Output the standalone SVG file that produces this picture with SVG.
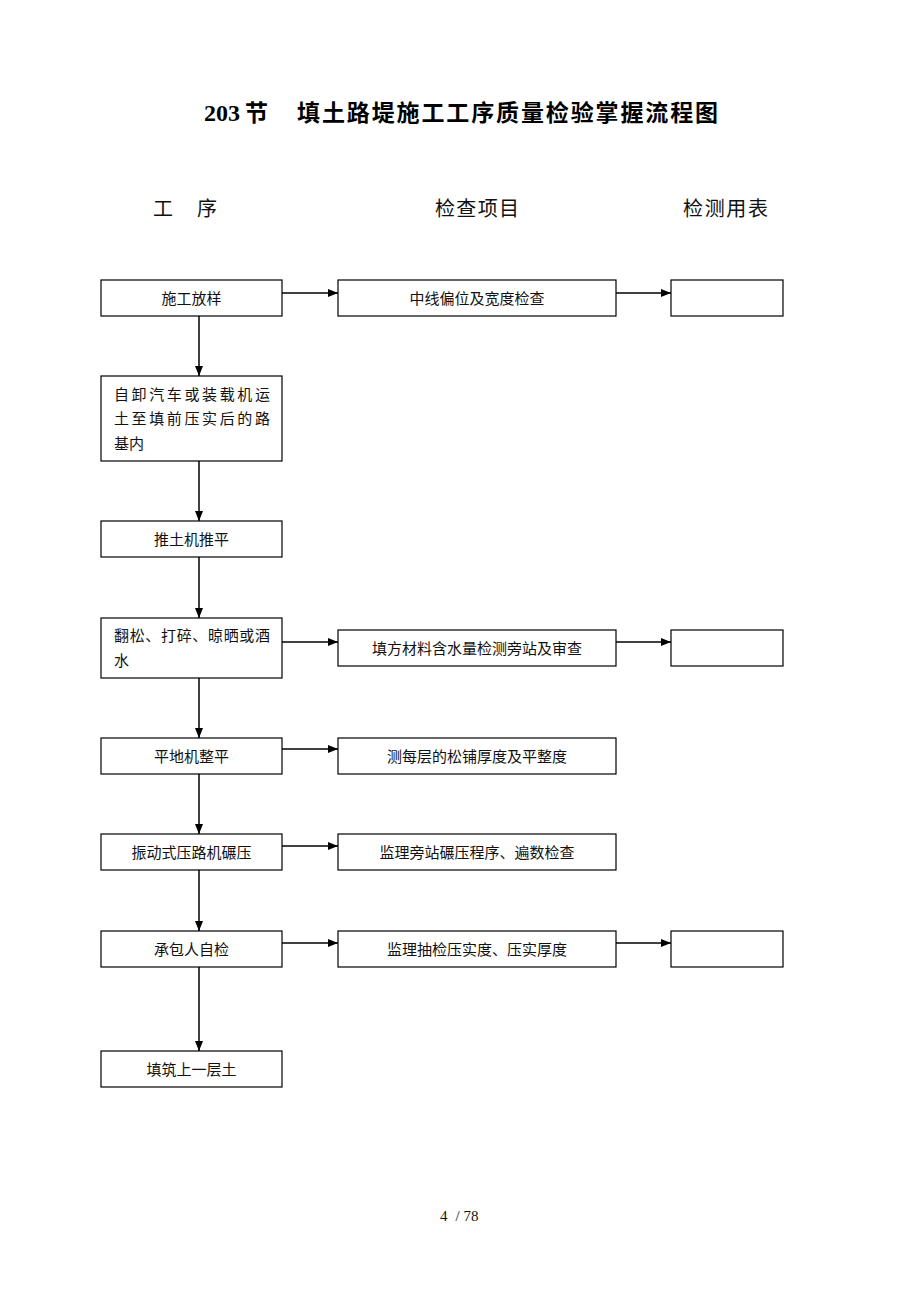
<svg xmlns="http://www.w3.org/2000/svg" width="920" height="1302" viewBox="0 0 920 1302">
<style>
.box{fill:#fff;stroke:#000;stroke-width:1.2}
.t{font-family:"Noto Sans CJK SC","Liberation Sans",sans-serif;font-size:15px;fill:#111}
.c{text-anchor:middle}
.h{font-family:"Noto Sans CJK SC","Liberation Sans",sans-serif;font-size:20px;fill:#111}
.ln{stroke:#000;stroke-width:1.5;fill:none}
</style>
<defs>
<marker id="ah" markerWidth="10" markerHeight="8" refX="10" refY="4" orient="auto" markerUnits="userSpaceOnUse">
<path d="M0,0 L10,4 L0,8 Z" fill="#000"/>
</marker>
</defs>
<rect width="920" height="1302" fill="#fff"/>
<g id="title">
<text x="204" y="121" font-family="Liberation Serif,serif" font-weight="bold" font-size="24">203</text>
<text x="245" y="121" font-family="Noto Sans CJK SC,sans-serif" font-weight="bold" font-size="23">节</text>
<text x="297" y="121" font-family="Noto Sans CJK SC,sans-serif" font-weight="bold" font-size="23" textLength="421" lengthAdjust="spacing">填土路堤施工工序质量检验掌握流程图</text>
</g>
<g id="headers">
<text class="h" x="153" y="216">工</text>
<text class="h" x="197" y="216">序</text>
<text class="h" x="435" y="216" textLength="84" lengthAdjust="spacing">检查项目</text>
<text class="h" x="683" y="216" textLength="85" lengthAdjust="spacing">检测用表</text>
</g>
<g id="connectors">
<line class="ln" x1="199" y1="316" x2="199" y2="376" marker-end="url(#ah)"/>
<line class="ln" x1="199" y1="461" x2="199" y2="521" marker-end="url(#ah)"/>
<line class="ln" x1="199" y1="557" x2="199" y2="618" marker-end="url(#ah)"/>
<line class="ln" x1="199" y1="678" x2="199" y2="738" marker-end="url(#ah)"/>
<line class="ln" x1="199" y1="774" x2="199" y2="834" marker-end="url(#ah)"/>
<line class="ln" x1="199" y1="870" x2="199" y2="931" marker-end="url(#ah)"/>
<line class="ln" x1="199" y1="967" x2="199" y2="1051" marker-end="url(#ah)"/>
<line class="ln" x1="282" y1="293" x2="338" y2="293" marker-end="url(#ah)"/>
<line class="ln" x1="616" y1="293" x2="671" y2="293" marker-end="url(#ah)"/>
<line class="ln" x1="282" y1="642" x2="338" y2="642" marker-end="url(#ah)"/>
<line class="ln" x1="616" y1="642" x2="671" y2="642" marker-end="url(#ah)"/>
<line class="ln" x1="282" y1="749" x2="338" y2="749" marker-end="url(#ah)"/>
<line class="ln" x1="282" y1="846" x2="338" y2="846" marker-end="url(#ah)"/>
<line class="ln" x1="282" y1="943" x2="338" y2="943" marker-end="url(#ah)"/>
<line class="ln" x1="616" y1="943" x2="671" y2="943" marker-end="url(#ah)"/>
</g>
<g id="n1"><rect class="box" x="101" y="280" width="181" height="36"/><text class="t c" x="191.5" y="304">施工放样</text></g>
<g id="n2"><rect class="box" x="101" y="376" width="181" height="85"/>
<text class="t" x="114" y="400" textLength="156" lengthAdjust="spacing">自卸汽车或装载机运</text>
<text class="t" x="114" y="424" textLength="156" lengthAdjust="spacing">土至填前压实后的路</text>
<text class="t" x="114" y="449">基内</text></g>
<g id="n3"><rect class="box" x="101" y="521" width="181" height="36"/><text class="t c" x="191.5" y="545">推土机推平</text></g>
<g id="n4"><rect class="box" x="101" y="618" width="181" height="60"/>
<text class="t" x="114" y="641" textLength="156" lengthAdjust="spacing">翻松、打碎、晾晒或酒</text>
<text class="t" x="114" y="666">水</text></g>
<g id="n5"><rect class="box" x="101" y="738" width="181" height="36"/><text class="t c" x="191.5" y="762">平地机整平</text></g>
<g id="n6"><rect class="box" x="101" y="834" width="181" height="36"/><text class="t c" x="191.5" y="858">振动式压路机碾压</text></g>
<g id="n7"><rect class="box" x="101" y="931" width="181" height="36"/><text class="t c" x="191.5" y="955">承包人自检</text></g>
<g id="n8"><rect class="box" x="101" y="1051" width="181" height="36"/><text class="t c" x="191.5" y="1075">填筑上一层土</text></g>
<g id="m1"><rect class="box" x="338" y="280" width="278" height="36"/><text class="t c" x="477" y="304">中线偏位及宽度检查</text></g>
<g id="m2"><rect class="box" x="338" y="630" width="278" height="36"/><text class="t c" x="477" y="654">填方材料含水量检测旁站及审查</text></g>
<g id="m3"><rect class="box" x="338" y="738" width="278" height="36"/><text class="t c" x="477" y="762">测每层的松铺厚度及平整度</text></g>
<g id="m4"><rect class="box" x="338" y="834" width="278" height="36"/><text class="t c" x="477" y="858">监理旁站碾压程序、遍数检查</text></g>
<g id="m5"><rect class="box" x="338" y="931" width="278" height="36"/><text class="t c" x="477" y="955">监理抽检压实度、压实厚度</text></g>
<g id="r1"><rect class="box" x="671" y="280" width="112" height="36"/></g>
<g id="r2"><rect class="box" x="671" y="630" width="112" height="36"/></g>
<g id="r3"><rect class="box" x="671" y="931" width="112" height="36"/></g>
<g id="footer"><text x="440" y="1221" font-family="Liberation Serif,serif" font-size="15" fill="#111">4<tspan dx="8">/ 78</tspan></text></g>
</svg>
